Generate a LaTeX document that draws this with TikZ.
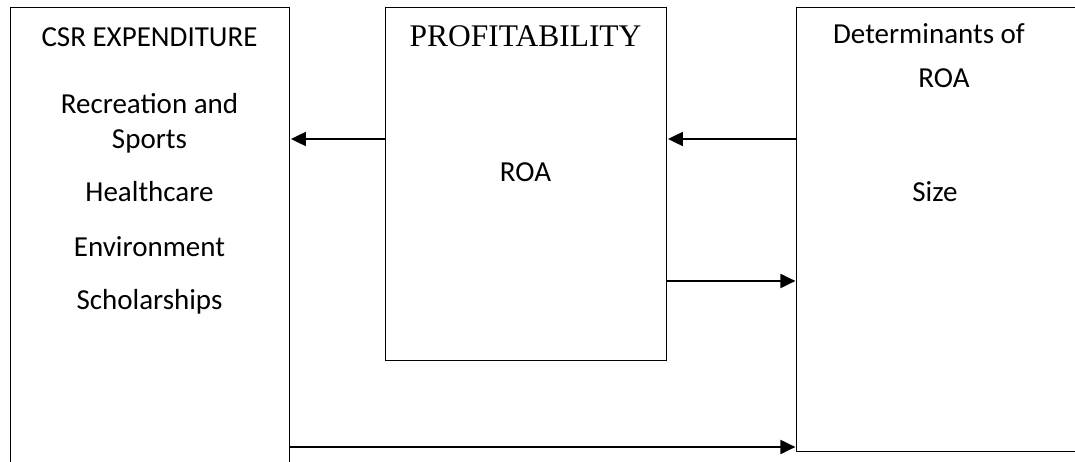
\documentclass[tikz,border=0pt]{standalone}
\usepackage{fontspec}
\setmainfont{Carlito}
\newfontfamily\timesf{Liberation Serif}
\usetikzlibrary{arrows.meta}
\begin{document}
\begin{tikzpicture}[x=1pt,y=-1pt,
  box/.style={draw=black, line width=1.3pt, rectangle, inner sep=0pt, anchor=north west},
  lbl/.style={inner sep=0pt, anchor=base, font=\fontsize{29}{35}\selectfont},
  arr/.style={draw=black, line width=2pt, -{Triangle[length=15pt,width=14pt]}, shorten >=0.6pt}
]
\useasboundingbox (0,0) rectangle (1075,462);
\clip (0,0) rectangle (1075,462);
\fill[white] (0,0) rectangle (1075,462);
% boxes
\node[box, minimum width=279pt, minimum height=480pt] (L) at (10,7) {};
\node[box, minimum width=281pt, minimum height=353pt] (M) at (385,7) {};
\node[box, minimum width=290pt, minimum height=444pt] (R) at (796,7) {};
% left texts
\node[lbl] (t1) at (149.5,46.7) {CSR EXPENDITURE};
\node[lbl] (t2) at (149.5,114) {Recreation and};
\node[lbl] (t3) at (149.5,149) {Sports};
\node[lbl] (t4) at (149.5,202) {Healthcare};
\node[lbl] (t5) at (149.5,256) {Environment};
\node[lbl] (t6) at (149.5,309) {Scholarships};
% middle texts
\node[inner sep=0pt, anchor=base, font=\timesf\fontsize{31.5}{36}\selectfont] (p1) at (525.5,46.7) {PROFITABILITY};
\node[lbl] (p2) at (525.5,182) {ROA};
% right texts
\node[lbl] (r1) at (929,44) {Determinants of};
\node[lbl] (r2) at (944,88) {ROA};
\node[lbl] (r3) at (935,202) {Size};
% connectors
\coordinate (y1) at (0,139);
\coordinate (y2) at (0,281);
\coordinate (y3) at (0,447);
\draw[arr] (M.west |- y1) -- (L.east |- y1);
\draw[arr] (R.west |- y1) -- (M.east |- y1);
\draw[arr] (M.east |- y2) -- (R.west |- y2);
\draw[arr] (L.east |- y3) -- (R.west |- y3);
\end{tikzpicture}
\end{document}
